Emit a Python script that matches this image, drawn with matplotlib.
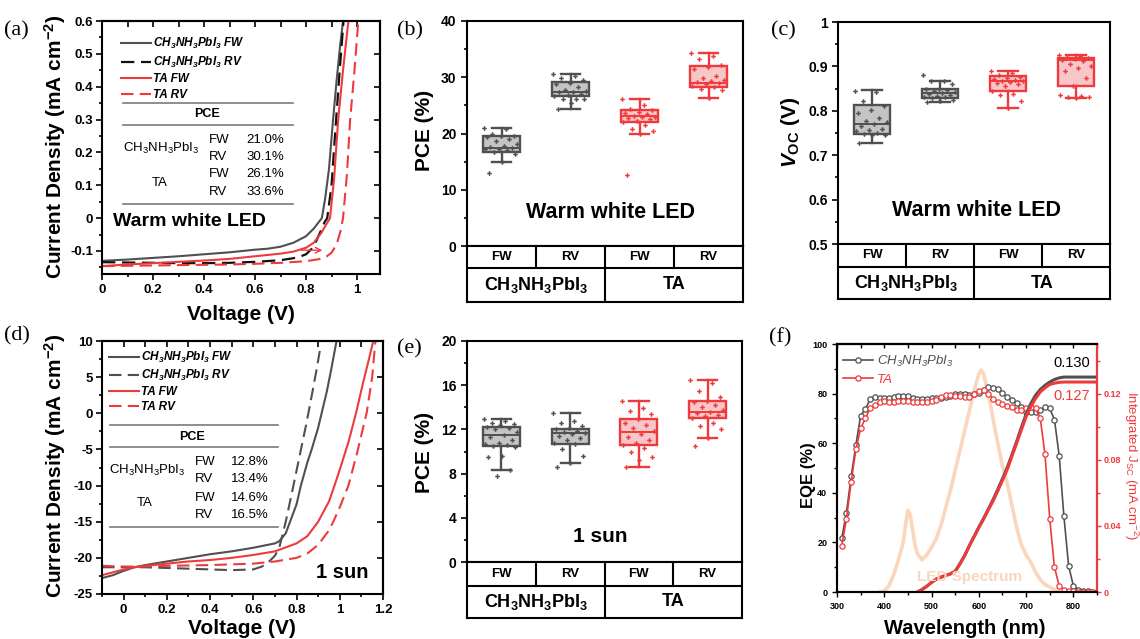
import numpy as np
import matplotlib
matplotlib.use('Agg')
import matplotlib.pyplot as plt
from matplotlib.lines import Line2D
from matplotlib.ticker import MultipleLocator, FuncFormatter

plt.rcParams['font.family'] = ['Liberation Sans', 'DejaVu Sans']
plt.rcParams['font.weight'] = 'bold'
plt.rcParams['mathtext.fontset'] = 'custom'
plt.rcParams['mathtext.rm'] = 'Liberation Sans:bold'
plt.rcParams['mathtext.it'] = 'Liberation Sans:italic:bold'
plt.rcParams['mathtext.bf'] = 'Liberation Sans:bold'
plt.rcParams['mathtext.default'] = 'regular'
plt.rcParams['axes.unicode_minus'] = False
plt.rcParams['axes.linewidth'] = 1.5

# ------------------------------------------------------------------ data
# (a) J-V under warm white LED
a_ch_fw_v = [0, 0.1, 0.2, 0.3, 0.4, 0.5, 0.6, 0.65, 0.7, 0.75, 0.8, 0.83, 0.85, 0.862, 0.875, 0.89, 0.906, 0.92, 0.933, 0.945]
a_ch_fw_j = [-0.130, -0.126, -0.121, -0.116, -0.110, -0.104, -0.096, -0.093, -0.087, -0.075, -0.055, -0.032, -0.012, 0.0, 0.06, 0.15, 0.3, 0.42, 0.52, 0.6]
a_ch_rv_v = [0, 0.1, 0.2, 0.3, 0.4, 0.5, 0.6, 0.7, 0.75, 0.78, 0.8, 0.82, 0.84, 0.86, 0.873, 0.883, 0.9, 0.918, 0.932, 0.947]
a_ch_rv_j = [-0.134, -0.135, -0.136, -0.137, -0.137, -0.136, -0.133, -0.128, -0.122, -0.116, -0.110, -0.095, -0.07, -0.035, -0.012, 0.0, 0.1, 0.3, 0.45, 0.6]
a_ta_fw_v = [0, 0.1, 0.2, 0.3, 0.4, 0.5, 0.6, 0.7, 0.75, 0.8, 0.83, 0.86, 0.88, 0.894, 0.91, 0.926, 0.945, 0.966]
a_ta_fw_j = [-0.146, -0.141, -0.137, -0.133, -0.129, -0.124, -0.116, -0.108, -0.102, -0.09, -0.075, -0.045, -0.018, 0.0, 0.12, 0.3, 0.45, 0.6]
a_ta_rv_v = [0, 0.1, 0.2, 0.3, 0.4, 0.5, 0.6, 0.7, 0.8, 0.85, 0.88, 0.9, 0.92, 0.935, 0.945, 0.96, 0.973, 0.99, 1.005]
a_ta_rv_j = [-0.146, -0.145, -0.144, -0.143, -0.142, -0.141, -0.139, -0.136, -0.131, -0.125, -0.117, -0.105, -0.08, -0.04, 0.0, 0.13, 0.3, 0.45, 0.6]

# (d) J-V under 1 sun
d_ch_fw_v = [-0.1, -0.05, 0, 0.05, 0.1, 0.2, 0.3, 0.4, 0.5, 0.6, 0.7, 0.72, 0.75, 0.77, 0.8, 0.82, 0.85, 0.87, 0.9, 0.916, 0.94, 0.96, 0.985]
d_ch_fw_j = [-22.8, -22.4, -21.8, -21.3, -21.0, -20.5, -20.0, -19.5, -19.1, -18.6, -18.0, -17.7, -16.6, -15.0, -12.6, -10.0, -6.8, -5.0, -2.0, 0.0, 3.0, 6.0, 10.0]
d_ch_rv_v = [-0.1, 0, 0.1, 0.2, 0.3, 0.4, 0.5, 0.6, 0.64, 0.67, 0.7, 0.72, 0.75, 0.78, 0.81, 0.845, 0.87, 0.89, 0.908]
d_ch_rv_j = [-21.3, -21.3, -21.3, -21.4, -21.5, -21.6, -21.7, -21.6, -21.2, -20.6, -19.7, -18.6, -15.0, -10.8, -6.5, -1.5, 2.4, 5.6, 8.7]
d_ta_fw_v = [-0.1, -0.05, 0, 0.05, 0.1, 0.2, 0.3, 0.4, 0.5, 0.6, 0.7, 0.8, 0.85, 0.9, 0.95, 0.97, 1.0, 1.04, 1.075, 1.11, 1.135, 1.155]
d_ta_fw_j = [-22.4, -22.0, -21.6, -21.3, -21.1, -20.8, -20.5, -20.3, -20.0, -19.6, -19.1, -18.0, -17.0, -15.0, -12.2, -10.5, -7.8, -4.0, 0.0, 4.5, 7.5, 10.0]
d_ta_rv_v = [-0.1, 0, 0.1, 0.2, 0.3, 0.4, 0.5, 0.6, 0.7, 0.8, 0.85, 0.9, 0.95, 0.97, 1.0, 1.04, 1.08, 1.124, 1.15, 1.165]
d_ta_rv_j = [-21.1, -21.2, -21.2, -21.1, -21.05, -21.0, -20.9, -20.8, -20.5, -20.0, -19.4, -18.2, -16.2, -15.0, -13.0, -10.0, -5.5, 0.0, 5.0, 10.0]

# inset PCE tables
pce_rows = ['FW', 'RV', 'FW', 'RV']
pce_led = ['21.0%', '30.1%', '26.1%', '33.6%']
pce_sun = ['12.8%', '13.4%', '14.6%', '16.5%']

# box-plot categories
scan_labels = ['FW', 'RV', 'FW', 'RV']
group_labels = ['CH$_3$NH$_3$PbI$_3$', 'TA']

# (b) PCE, warm white LED
b_pts = [
    [21.0, 20.8, 20.0, 19.6, 19.5, 19.3, 19.0, 18.7, 18.2, 17.8, 17.6, 17.4, 17.3, 17.2, 17.0, 16.8, 16.4, 15.0, 13.0],
    [30.5, 30.3, 29.9, 29.6, 29.0, 28.8, 28.3, 27.8, 27.5, 27.4, 27.3, 27.1, 26.9, 26.6, 26.2, 26.1, 26.1, 25.5, 24.4],
    [26.1, 25.0, 24.3, 24.1, 23.9, 23.6, 23.4, 23.2, 23.0, 22.9, 22.7, 22.5, 22.3, 22.0, 21.5, 20.8, 20.5, 19.9, 12.7],
    [34.3, 33.8, 33.2, 32.2, 31.9, 31.5, 30.2, 29.8, 29.6, 29.4, 29.2, 29.0, 28.8, 28.5, 28.3, 28.0, 27.8, 26.4],
]
b_med = [17.4, 27.4, 23.1, 29.0]
b_q1 = [16.8, 26.6, 22.1, 28.3]
b_q3 = [19.6, 29.2, 24.2, 32.0]
b_lo = [14.9, 24.4, 19.9, 26.4]
b_hi = [21.0, 30.5, 26.1, 34.3]

# (c) Voc, warm white LED
c_pts = [
    [0.845, 0.842, 0.822, 0.810, 0.802, 0.795, 0.783, 0.778, 0.775, 0.770, 0.765, 0.760, 0.757, 0.755, 0.750, 0.748, 0.746, 0.745, 0.727],
    [0.880, 0.868, 0.866, 0.860, 0.850, 0.848, 0.846, 0.844, 0.842, 0.840, 0.838, 0.836, 0.834, 0.832, 0.830, 0.828, 0.825, 0.822, 0.820],
    [0.889, 0.885, 0.880, 0.876, 0.874, 0.872, 0.870, 0.868, 0.866, 0.865, 0.863, 0.860, 0.856, 0.845, 0.838, 0.835, 0.822, 0.806],
    [0.926, 0.924, 0.921, 0.918, 0.916, 0.914, 0.912, 0.906, 0.902, 0.897, 0.890, 0.875, 0.856, 0.836, 0.833, 0.831, 0.830, 0.829],
]
c_med = [0.771, 0.840, 0.866, 0.914]
c_q1 = [0.748, 0.829, 0.845, 0.856]
c_q3 = [0.812, 0.850, 0.878, 0.919]
c_lo = [0.727, 0.820, 0.806, 0.829]
c_hi = [0.846, 0.868, 0.889, 0.926]

# (e) PCE, 1 sun
e_pts = [
    [12.9, 12.8, 12.6, 12.5, 12.4, 12.2, 12.1, 12.0, 11.8, 11.5, 11.3, 11.0, 10.8, 10.7, 10.6, 10.5, 10.4, 9.6, 9.5, 8.3, 7.8],
    [13.5, 12.8, 12.6, 12.3, 12.1, 12.0, 11.9, 11.8, 11.7, 11.6, 11.4, 11.2, 11.0, 10.8, 10.7, 10.2, 9.6, 9.0, 8.6],
    [14.6, 13.9, 13.7, 13.4, 12.9, 12.6, 12.4, 12.1, 11.9, 11.6, 11.3, 11.0, 10.8, 10.6, 10.3, 10.0, 9.5, 9.2, 8.6],
    [16.5, 16.2, 15.5, 14.9, 14.6, 14.5, 14.2, 14.0, 13.8, 13.6, 13.5, 13.3, 13.2, 13.0, 12.6, 12.3, 12.0, 11.2, 10.5],
]
e_med = [11.5, 11.7, 11.8, 13.6]
e_q1 = [10.5, 10.7, 10.6, 13.0]
e_q3 = [12.2, 12.0, 12.9, 14.6]
e_lo = [8.3, 9.0, 8.6, 11.2]
e_hi = [12.9, 13.5, 14.6, 16.5]

# (f) EQE
eqe_wl = list(range(310, 851, 10))
eqe_ch = [21.7, 32, 46.6, 59.3, 71.1, 73.7, 77.7, 78.8, 78.4, 78.1, 78.1, 78.8, 79.2, 79.2, 79.2, 78.1, 77.9, 77.9,
          77.9, 78.1, 78.1, 78.4, 78.8, 79.1, 79.7, 79.7, 79.7, 79.5, 79.7, 80.1, 81.5, 82.5, 82.2, 81.7, 80.1, 78.8,
          77.4, 76.2, 74.5, 72.5, 72.5, 72.5, 73.5, 74.5, 74.0, 69.5, 55.0, 30.5, 10.5, 2.5, 1.0, 0.5, 0.3, 0.2, 0.2]
eqe_ta = [18.5, 29.5, 44.5, 57.5, 66, 70, 74, 75.5, 76.5, 77, 76.5, 76.8, 77, 77.2, 77, 76.8, 76.5, 76.5,
          76.8, 77, 77.5, 78.5, 79.5, 79.5, 79, 79, 78.8, 78.8, 80, 81, 81.5, 80, 78, 76.5, 76, 75,
          74.5, 73.5, 73.5, 74, 74.5, 74, 70, 55.5, 29.5, 10, 2.5, 1.0, 0.5, 0.3, 0.2, 0.1, 0.1, 0.1, 0.1]
jsc_wl = [470, 480, 490, 500, 510, 520, 530, 540, 550, 560, 570, 580, 590, 600, 610, 620, 630, 640, 650, 660,
          670, 680, 690, 700, 710, 720, 730, 740, 750, 760, 770, 780, 790, 800, 820, 850]
jsc_ta = [0, 0.0015, 0.0035, 0.0058, 0.0078, 0.009, 0.0100, 0.011, 0.0125, 0.017, 0.022, 0.028, 0.0335, 0.039,
          0.044, 0.0496, 0.055, 0.061, 0.0675, 0.074, 0.082, 0.090, 0.098, 0.106, 0.112, 0.117, 0.121, 0.1235,
          0.1255, 0.1263, 0.1268, 0.127, 0.127, 0.127, 0.127, 0.127]
jsc_ch = [0, 0.0015, 0.0035, 0.0058, 0.0078, 0.009, 0.0100, 0.011, 0.0125, 0.017, 0.022, 0.028, 0.0335, 0.0392,
          0.0445, 0.050, 0.0558, 0.062, 0.0685, 0.0752, 0.083, 0.091, 0.0995, 0.1075, 0.114, 0.119, 0.1225, 0.125,
          0.127, 0.1285, 0.1295, 0.13, 0.13, 0.13, 0.13, 0.13]
led_wl = [390, 400, 410, 420, 430, 440, 445, 450, 455, 460, 465, 470, 480, 490, 500, 510, 520, 530, 540, 550, 560,
          570, 580, 590, 600, 605, 610, 620, 630, 640, 650, 660, 670, 680, 690, 700, 710, 720, 730, 740, 750, 760, 770]
led_int = [0, 0.5, 2.5, 7, 13, 20, 27, 33, 31, 25, 19, 15.5, 13, 15, 18, 21.5, 27, 34, 41, 49, 57,
           65, 73, 81, 88, 89.5, 88, 80, 70, 60, 51, 44, 35, 26, 19, 15, 12, 8, 5, 3, 2, 1, 0]

# ------------------------------------------------------------------ style
W, H = 1140, 639
GREY = '#505050'
RED = '#ef3a3d'
GREY_FILL = '#c4c4c4'
RED_FILL = '#f8c6c6'
PEACH = '#f9d6bc'

fig = plt.figure(figsize=(W / 100, H / 100), dpi=100)


def rect(x0, y0, x1, y1):
    return [x0 / W, 1 - y1 / H, (x1 - x0) / W, (y1 - y0) / H]


def ftext(x, y, s, **kw):
    kw.setdefault('ha', 'center')
    kw.setdefault('va', 'center')
    return fig.text(x / W, 1 - y / H, s, **kw)


def fline(x0, x1, y, **kw):
    fig.add_artist(Line2D([x0 / W, x1 / W], [1 - y / H, 1 - y / H], **kw))


gfmt = FuncFormatter(lambda v, p: ('%g' % round(v, 6)))


def mirror_ticks(ax, xmaj, xmin, ymaj, ymin):
    sx = ax.secondary_xaxis('top')
    sx.xaxis.set_major_locator(MultipleLocator(xmaj))
    sx.xaxis.set_minor_locator(MultipleLocator(xmin))
    sx.tick_params(which='both', direction='in', labeltop=False, width=1.2)
    sx.tick_params(which='major', length=4)
    sx.tick_params(which='minor', length=4)
    sy = ax.secondary_yaxis('right')
    sy.yaxis.set_major_locator(MultipleLocator(ymaj))
    sy.yaxis.set_minor_locator(MultipleLocator(ymin))
    sy.tick_params(which='both', direction='in', labelright=False, width=1.2)
    sy.tick_params(which='major', length=4)
    sy.tick_params(which='minor', length=0)


# ------------------------------------------------------------------ (a)
axa = fig.add_axes(rect(102, 21, 380, 274))
axa.plot(a_ch_fw_v, a_ch_fw_j, color=GREY, lw=1.5)
axa.plot(a_ch_rv_v, a_ch_rv_j, color='#111111', lw=1.6, ls=(0, (6, 3)))
axa.plot(a_ta_fw_v, a_ta_fw_j, color=RED, lw=1.5)
axa.plot(a_ta_rv_v, a_ta_rv_j, color=RED, lw=1.5, ls=(0, (6, 3)))
axa.annotate('', xy=(0.875, -0.098), xytext=(0.77, -0.097),
             arrowprops=dict(arrowstyle='->', color=RED, lw=1.0))
axa.set_xlim(0, 1.09)
axa.set_ylim(-0.17, 0.6)
axa.xaxis.set_major_locator(MultipleLocator(0.2))
axa.xaxis.set_minor_locator(MultipleLocator(0.1))
axa.yaxis.set_major_locator(MultipleLocator(0.1))
axa.yaxis.set_minor_locator(MultipleLocator(0.05))
axa.xaxis.set_major_formatter(gfmt)
axa.yaxis.set_major_formatter(gfmt)
axa.tick_params(which='both', direction='out', labelsize=9.5, width=1.2)
axa.tick_params(axis='y', pad=2.5)
axa.tick_params(which='major', length=4)
axa.tick_params(which='minor', length=2.5)
mirror_ticks(axa, 0.2, 0.1, 0.1, 0.05)

h_a = [Line2D([], [], color=GREY, lw=1.5),
       Line2D([], [], color='#111111', lw=1.6, ls=(0, (6, 3))),
       Line2D([], [], color=RED, lw=1.5),
       Line2D([], [], color=RED, lw=1.5, ls=(0, (6, 3)))]
lab_a = ['CH$_3$NH$_3$PbI$_3$ FW', 'CH$_3$NH$_3$PbI$_3$ RV', 'TA FW', 'TA RV']
axa.legend(h_a, lab_a, loc='upper left', bbox_to_anchor=(121 / W, 1 - 36 / H), bbox_transform=fig.transFigure,
           frameon=False, borderpad=0, borderaxespad=0, handlelength=2.55, handletextpad=0.2, labelspacing=0.3,
           prop=dict(family='Liberation Sans', weight='bold', style='italic', size=8.5))

# table in (a)
for yy in (103, 125, 204):
    fline(123, 293, yy, color='#7a7a7a', lw=1.2)
ftext(207, 114, 'PCE', fontsize=9, fontweight='bold')
ftext(161, 148, 'CH$_3$NH$_3$PbI$_3$', fontsize=9.5, fontweight='normal')
ftext(160, 183, 'TA', fontsize=9.5, fontweight='normal')
for k, yy in enumerate((140, 157, 174, 192)):
    ftext(209, yy, pce_rows[k], fontsize=9.5, fontweight='normal', ha='left')
    ftext(284, yy, pce_led[k], fontsize=9.5, fontweight='normal', ha='right')
ftext(113, 222, 'Warm white LED', fontsize=14, fontweight='bold', ha='left')
ftext(55, 147, 'Current Density (mA cm$^{-2}$)', fontsize=15, fontweight='bold', rotation=90)
ftext(241, 315, 'Voltage (V)', fontsize=15, fontweight='bold')

# ------------------------------------------------------------------ (d)
axd = fig.add_axes(rect(102, 341, 383, 594))
axd.plot(d_ch_fw_v, d_ch_fw_j, color=GREY, lw=1.5)
axd.plot(d_ch_rv_v, d_ch_rv_j, color=GREY, lw=1.5, ls=(0, (6, 3)))
axd.plot(d_ta_fw_v, d_ta_fw_j, color=RED, lw=1.5)
axd.plot(d_ta_rv_v, d_ta_rv_j, color=RED, lw=1.5, ls=(0, (6, 3)))
axd.set_xlim(-0.1, 1.2)
axd.set_ylim(-25, 10)
axd.xaxis.set_major_locator(MultipleLocator(0.2))
axd.xaxis.set_minor_locator(MultipleLocator(0.1))
axd.yaxis.set_major_locator(MultipleLocator(5))
axd.yaxis.set_minor_locator(MultipleLocator(2.5))
axd.xaxis.set_major_formatter(gfmt)
axd.yaxis.set_major_formatter(gfmt)
axd.tick_params(which='both', direction='out', labelsize=9.5, width=1.2)
axd.tick_params(axis='y', pad=2.5)
axd.tick_params(which='major', length=4)
axd.tick_params(which='minor', length=2.5)
mirror_ticks(axd, 0.2, 0.1, 5, 2.5)

h_d = [Line2D([], [], color=GREY, lw=1.5),
       Line2D([], [], color=GREY, lw=1.5, ls=(0, (6, 3))),
       Line2D([], [], color=RED, lw=1.5),
       Line2D([], [], color=RED, lw=1.5, ls=(0, (6, 3)))]
axd.legend(h_d, lab_a, loc='upper left', bbox_to_anchor=(109 / W, 1 - 350 / H), bbox_transform=fig.transFigure,
           frameon=False, borderpad=0, borderaxespad=0, handlelength=2.55, handletextpad=0.2, labelspacing=0.25,
           prop=dict(family='Liberation Sans', weight='bold', style='italic', size=8.5))
for yy in (425, 447, 527):
    fline(110, 278, yy, color='#7a7a7a', lw=1.2)
ftext(192, 437, 'PCE', fontsize=9, fontweight='bold')
ftext(147, 470, 'CH$_3$NH$_3$PbI$_3$', fontsize=9.5, fontweight='normal')
ftext(145, 503, 'TA', fontsize=9.5, fontweight='normal')
for k, yy in enumerate((462, 479, 498, 515)):
    ftext(195, yy, pce_rows[k], fontsize=9.5, fontweight='normal', ha='left')
    ftext(269, yy, pce_sun[k], fontsize=9.5, fontweight='normal', ha='right')
ftext(368, 572, '1 sun', fontsize=14.5, fontweight='bold', ha='right')
ftext(55, 466, 'Current Density (mA cm$^{-2}$)', fontsize=15, fontweight='bold', rotation=90)
ftext(242, 629, 'Voltage (V)', fontsize=15, fontweight='bold')


# ------------------------------------------------------------------ box panels
def box_panel(x0, x1, ytop, ybase, ymid, ybot, pts, med, q1, q3, lo, hi, ylim, major, minor):
    ax = fig.add_axes(rect(x0, ytop, x1, ybase))
    stats = [dict(med=med[k], q1=q1[k], q3=q3[k], whislo=lo[k], whishi=hi[k], fliers=[]) for k in range(4)]
    bp = ax.bxp(stats, positions=list(range(4)), widths=0.54, patch_artist=True, showfliers=False,
                capwidths=0.28, manage_ticks=False)
    for k in range(4):
        ec = GREY if k < 2 else RED
        fc = GREY_FILL if k < 2 else RED_FILL
        bp['boxes'][k].set(facecolor=fc, edgecolor=ec, linewidth=1.7)
        bp['medians'][k].set(color=ec, linewidth=1.4)
        for wsk in bp['whiskers'][2 * k:2 * k + 2]:
            wsk.set(color=ec, linewidth=1.7)
        for cp in bp['caps'][2 * k:2 * k + 2]:
            cp.set(color=ec, linewidth=1.7)
        v = pts[k]
        off = [((i * 0.618034) % 1.0 - 0.5) * 0.5 for i in range(len(v))]
        ax.plot([k + o for o in off], v, ls='none', marker='P', ms=3.3, mew=0, color=ec, zorder=4)
    ax.set_xlim(-0.5, 3.5)
    ax.set_ylim(*ylim)
    ax.set_xticks([])
    ax.yaxis.set_major_locator(MultipleLocator(major))
    ax.yaxis.set_minor_locator(MultipleLocator(minor))
    ax.yaxis.set_major_formatter(gfmt)
    ax.tick_params(axis='y', which='both', direction='out', labelsize=10, width=1.2)
    ax.tick_params(axis='y', which='major', length=4)
    ax.tick_params(axis='y', which='minor', length=2.5)

    t = fig.add_axes(rect(x0, ybase, x1, ybot))
    t.set_xlim(0, 4)
    t.set_ylim(0, 1)
    frac = (ybot - ymid) / (ybot - ybase)
    t.plot([0, 4], [frac, frac], color='k', lw=1.5)
    for k in (1, 3):
        t.plot([k, k], [frac, 1], color='k', lw=1.5)
    t.plot([2, 2], [0, 1], color='k', lw=1.5)
    for k in range(4):
        t.text(k + 0.5, (1 + frac) / 2, scan_labels[k], ha='center', va='center', fontsize=9.5, fontweight='bold')
    for g in range(2):
        t.text(2 * g + 1, frac / 2, group_labels[g], ha='center', va='center', fontsize=13, fontweight='bold')
    t.set_xticks([])
    t.set_yticks([])
    return ax


axb = box_panel(467, 743, 21, 246, 268, 302, b_pts, b_med, b_q1, b_q3, b_lo, b_hi, (0, 40), 10, 5)
ftext(610, 213, 'Warm white LED', fontsize=15.5, fontweight='bold')
ftext(425, 130, 'PCE (%)', fontsize=15, fontweight='bold', rotation=90)

axc = box_panel(838, 1110, 22, 244, 267, 299, c_pts, c_med, c_q1, c_q3, c_lo, c_hi, (0.5, 1.0), 0.1, 0.05)
ftext(977, 211, 'Warm white LED', fontsize=15.5, fontweight='bold')
ftext(790, 132, '$\\mathit{V}_{OC}$ (V)', fontsize=15, fontweight='bold', rotation=90)

axe = box_panel(467, 742, 341, 562, 586, 618, e_pts, e_med, e_q1, e_q3, e_lo, e_hi, (0, 20), 4, 2)
ftext(600, 537, '1 sun', fontsize=15, fontweight='bold')
ftext(425, 452, 'PCE (%)', fontsize=15, fontweight='bold', rotation=90)

# ------------------------------------------------------------------ (f)
axf = fig.add_axes(rect(837, 344, 1097, 592))
axf.plot(led_wl, led_int, color=PEACH, lw=2.6, zorder=1)
axf.plot(eqe_wl, eqe_ch, color=GREY, lw=1.2, marker='o', ms=3.8, mfc='white', mec=GREY, mew=0.9, zorder=3,
         label='CH$_3$NH$_3$PbI$_3$')
axf.plot(eqe_wl, eqe_ta, color=RED, lw=1.2, marker='o', ms=3.8, mfc='white', mec=RED, mew=0.9, zorder=3,
         label='TA')
axf.set_xlim(300, 850)
axf.set_ylim(0, 100)
axf.xaxis.set_major_locator(MultipleLocator(100))
axf.xaxis.set_minor_locator(MultipleLocator(50))
axf.yaxis.set_major_locator(MultipleLocator(20))
axf.yaxis.set_minor_locator(MultipleLocator(10))
axf.tick_params(which='both', direction='out', labelsize=6.5, width=1.0)
axf.tick_params(which='major', length=3.5)
axf.tick_params(which='minor', length=2)
sxf = axf.secondary_xaxis('top')
sxf.xaxis.set_major_locator(MultipleLocator(100))
sxf.xaxis.set_minor_locator(MultipleLocator(50))
sxf.tick_params(which='both', direction='in', labeltop=False, length=3, width=1.0)
axf.legend(loc='upper left', bbox_to_anchor=(843 / W, 1 - 354 / H), bbox_transform=fig.transFigure,
           frameon=False, borderpad=0, borderaxespad=0, handlelength=2.3, handletextpad=0.25, labelspacing=0.35,
           labelcolor='linecolor', prop=dict(family='Liberation Sans', weight='normal', style='italic', size=9.5))
axr = axf.twinx()
axr.plot(jsc_wl, jsc_ch, color=GREY, lw=2.2)
axr.plot(jsc_wl, jsc_ta, color=RED, lw=2.2)
axr.set_ylim(0, 0.15)
axr.yaxis.set_major_locator(MultipleLocator(0.04))
axr.yaxis.set_minor_locator(MultipleLocator(0.02))
axr.yaxis.set_major_formatter(gfmt)
axr.spines['right'].set_color(RED)
axr.tick_params(axis='y', which='both', direction='out', colors=RED, labelsize=6.5, width=1.0, pad=1.5)
axr.tick_params(axis='y', which='major', length=3)
axr.tick_params(axis='y', which='minor', length=2)
ftext(1090, 363, '0.130', fontsize=10.5, fontweight='normal', ha='right')
ftext(1090, 396, '0.127', fontsize=10.5, fontweight='normal', ha='right', color=RED)
ftext(970, 577, 'LED Spectrum', fontsize=11, fontweight='bold', color=PEACH)
ftext(809, 475, 'EQE (%)', fontsize=12, fontweight='bold', rotation=90)
ftext(965, 629, 'Wavelength (nm)', fontsize=14.5, fontweight='bold')
ftext(1131.5, 466, 'Integrated J$_{SC}$ (mA cm$^{-2}$)', fontsize=9.5, fontweight='normal', color=RED, rotation=-90)

# ------------------------------------------------------------------ panel letters
for s, x, y in (('(a)', 4, 31), ('(b)', 397, 31), ('(c)', 771, 31),
                ('(d)', 4, 336), ('(e)', 397, 349), ('(f)', 769, 338)):
    ftext(x, y, s, fontsize=16, fontweight='normal', family='Liberation Serif', ha='left')

fig.savefig('out.png', dpi=100)
